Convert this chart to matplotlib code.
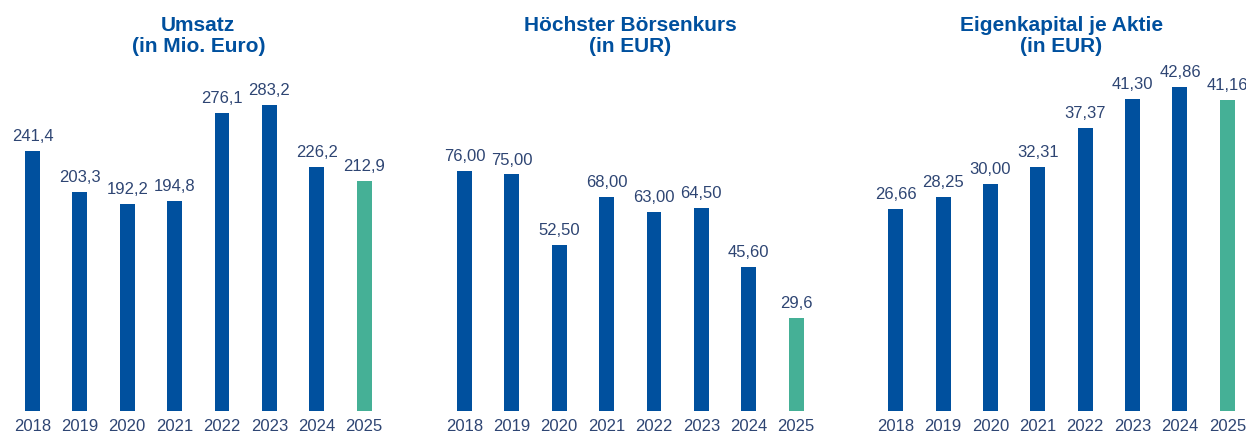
import matplotlib
matplotlib.use("Agg")
import matplotlib.pyplot as plt

years = ["2018", "2019", "2020", "2021", "2022", "2023", "2024", "2025"]
umsatz = [241.4, 203.3, 192.2, 194.8, 276.1, 283.2, 226.2, 212.9]
kurs = [76.00, 75.00, 52.50, 68.00, 63.00, 64.50, 45.60, 29.6]
eigenkapital = [26.66, 28.25, 30.00, 32.31, 37.37, 41.30, 42.86, 41.16]

umsatz_labels = ["241,4", "203,3", "192,2", "194,8", "276,1", "283,2", "226,2", "212,9"]
kurs_labels = ["76,00", "75,00", "52,50", "68,00", "63,00", "64,50", "45,60", "29,6"]
eigenkapital_labels = ["26,66", "28,25", "30,00", "32,31", "37,37", "41,30", "42,86", "41,16"]

titles = ["Umsatz\n(in Mio. Euro)", "Höchster Börsenkurs\n(in EUR)", "Eigenkapital je Aktie\n(in EUR)"]

blue = "#00509E"
green = "#45B096"
text_col = "#2E4573"

plt.rcParams["font.family"] = ["Liberation Sans", "DejaVu Sans"]

W, H = 1246, 436
fig = plt.figure(figsize=(W / 100, H / 100), dpi=100)

# axes placement in pixels: left edge, width
lefts = [8.8, 440.8, 872.0]
width = 379
bottom = 411
height = 351
ytops = [325.3, 111.3, 46.4]

panels = [(umsatz, umsatz_labels), (kurs, kurs_labels), (eigenkapital, eigenkapital_labels)]

for i, (vals, labs) in enumerate(panels):
    ax = fig.add_axes([lefts[i] / W, (H - bottom) / H, width / W, height / H])
    x = list(range(len(years)))
    colors = [blue] * (len(years) - 1) + [green]
    bars = ax.bar(x, vals, width=0.316, color=colors)
    ax.bar_label(bars, labels=labs, padding=5, fontsize=12, color=text_col)
    ax.set_xlim(-0.5, len(years) - 0.5)
    ax.set_ylim(0, ytops[i])
    ax.set_xticks(x)
    ax.set_xticklabels(years, fontsize=12, color=text_col)
    ax.tick_params(axis="x", length=0, pad=6)
    ax.set_yticks([])
    for s in ax.spines.values():
        s.set_visible(False)
    cx = (lefts[i] + width / 2) / W
    fig.text(cx, 1 - 36 / H, titles[i], ha="center", va="center",
             fontsize=15, fontweight="bold", color=blue, linespacing=1.1)

fig.savefig("out.png", dpi=100)
